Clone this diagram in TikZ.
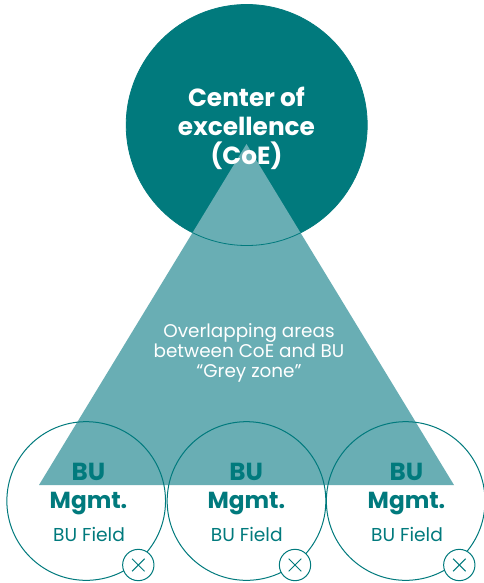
\documentclass[tikz,border=0pt]{standalone}
\usepackage{fontspec}
\setmainfont{Poppins}
\newfontfamily\popsb{Poppins}[UprightFont=* SemiBold,BoldFont=* Bold]
\definecolor{teal1}{HTML}{017A7D}
\definecolor{teal2}{HTML}{69AEB4}
\tikzset{
  px/.style={x=0.75pt,y=-0.75pt},
  bigcirc/.style={circle,fill=teal1,draw=teal1,line width=0.6pt,inner sep=0pt,minimum size=180.75pt},
  tri/.style={fill=teal2,draw=none},
  bucirc/.style={circle,draw=teal1,line width=0.75pt,inner sep=0pt,minimum size=119pt},
  xcirc/.style={circle,draw=teal1,fill=white,line width=0.75pt,inner sep=0pt,minimum size=23.5pt},
  xmark/.style={draw=teal1,line width=0.75pt},
  headtxt/.style={text=white,font=\popsb\bfseries\fontsize{18.6}{22}\selectfont,align=center},
  midtxt/.style={text=white,font=\fontsize{13.8}{15}\selectfont,align=center},
  butxt/.style={text=teal1,font=\popsb\bfseries\fontsize{18.5}{20}\selectfont,inner sep=0pt},
  mgtxt/.style={text=teal1,font=\popsb\bfseries\fontsize{17.4}{20}\selectfont,inner sep=0pt},
  fieldtxt/.style={text=teal1,font=\fontsize{14}{14}\selectfont,inner sep=0pt},
}
\begin{document}
\begin{tikzpicture}[px]
\useasboundingbox (0,0) rectangle (483,583);
\fill[white] (0,0) rectangle (483,583);
\node[bigcirc] (coe) at (246.7,125) {};
\coordinate (apex) at (246.5,144);
\coordinate (bl) at (39,485);
\coordinate (br) at (454,485);
\fill[tri] (apex) -- (bl) -- (br) -- cycle;
\begin{scope}
\clip (apex) -- (bl) -- (br) -- cycle;
\draw[teal1,line width=0.6pt] (coe.center) circle[radius=120.5];
\end{scope}
\node[headtxt] (title) at (246.5,128.5) {Center of\\excellence\\(CoE)};
\node[midtxt] (mid) at (249,353) {Overlapping areas\\between CoE and BU\\“Grey zone”};
\foreach \n/\cx/\xx/\tx in {a/86.2/138.3/88.5,b/246.5/295/246.3,c/405.7/459.3/406.5}{
  \node[bucirc] (c\n) at (\cx,501) {};
  \node[xcirc] (x\n) at (\xx,565) {};
  \draw[xmark] (x\n.center) ++(-4.7pt,-4.7pt) -- ++(9.4pt,9.4pt);
  \draw[xmark] (x\n.center) ++(-4.7pt,4.7pt) -- ++(9.4pt,-9.4pt);
  \node[butxt] (bu\n) at (\tx,472) {BU};
  \node[mgtxt] (m\n) at (\tx,504) {Mgmt.};
  \node[fieldtxt] (f\n) at (\tx+.5,534) {BU Field};
}
\end{tikzpicture}
\end{document}
